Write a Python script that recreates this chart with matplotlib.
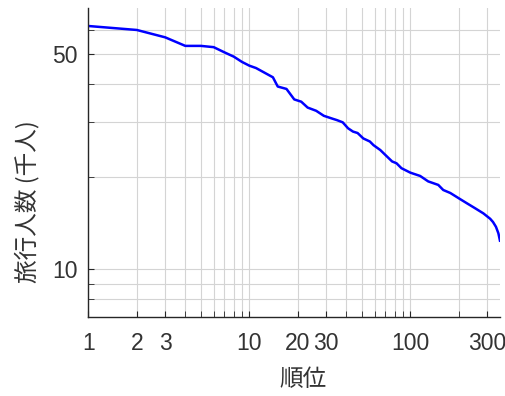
import matplotlib
matplotlib.use("Agg")
import matplotlib.pyplot as plt
from matplotlib.ticker import FixedLocator, NullFormatter, FixedFormatter

plt.rcParams['font.family'] = ['Liberation Sans', 'Noto Sans CJK JP', 'DejaVu Sans']

rank = [1, 2, 3, 4, 5, 6, 7, 8, 9, 10, 11, 14, 15, 17, 19, 21, 23, 26, 29, 33,
        35, 38, 41, 44, 47, 51, 56, 59, 65, 70, 77, 82, 88, 100, 115, 129, 149,
        160, 177, 204, 224, 252, 284, 313, 326, 340, 352, 360]
travelers = [61.6, 59.8, 56.6, 53.1, 53.1, 52.6, 50.6, 49.0, 47.1, 45.8, 45.0,
             42.0, 39.2, 38.5, 35.6, 35.0, 33.5, 32.7, 31.5, 30.8,
             30.5, 30.0, 28.7, 28.0, 27.7, 26.6, 26.0, 25.3, 24.4, 23.5, 22.4,
             22.1, 21.3, 20.6, 20.1, 19.3, 18.8, 18.1, 17.7, 16.9, 16.4, 15.8,
             15.2, 14.6, 14.25, 13.75, 13.1, 12.4]

x_major = [1, 2, 3, 10, 20, 30, 100, 300]
x_minor = [4, 5, 6, 7, 8, 9, 40, 50, 60, 70, 80, 90, 200]
y_major = [10, 50]
y_minor = [8, 9, 20, 30, 40, 60]

fig = plt.figure(figsize=(5.05, 3.96), dpi=100)
ax = fig.add_axes([0.175, 0.199, 0.815, 0.780])
ax.plot(rank, travelers, color='#0000ff', linewidth=1.8)
ax.set_xscale('log')
ax.set_yscale('log')
ax.set_xlim(1, 360)
ax.set_ylim(7, 70.3)

ax.xaxis.set_major_locator(FixedLocator(x_major))
ax.xaxis.set_major_formatter(FixedFormatter([str(v) for v in x_major]))
ax.xaxis.set_minor_locator(FixedLocator(x_minor))
ax.xaxis.set_minor_formatter(NullFormatter())
ax.yaxis.set_major_locator(FixedLocator(y_major))
ax.yaxis.set_major_formatter(FixedFormatter([str(v) for v in y_major]))
ax.yaxis.set_minor_locator(FixedLocator(y_minor))
ax.yaxis.set_minor_formatter(NullFormatter())

ax.grid(True, which='both', color='#d4d4d4', linewidth=0.8)
ax.set_axisbelow(True)
for s in ['top', 'right']:
    ax.spines[s].set_visible(False)
for s in ['left', 'bottom']:
    ax.spines[s].set_color('#262626')
    ax.spines[s].set_linewidth(1.0)
ax.tick_params(which='both', direction='in', color='#262626', labelcolor='#333333', labelsize=16.5)
ax.tick_params(which='both', length=4)
ax.tick_params(axis='x', pad=11)
ax.tick_params(axis='y', pad=8)

ax.set_xlabel('順位', fontsize=17, family=['Noto Sans CJK JP'], color='#333333')
ax.set_ylabel('旅行人数 (千人)', fontsize=17, family=['Noto Sans CJK JP'], color='#333333')
ax.xaxis.set_label_coords(0.5215, -0.164)
ax.yaxis.set_label_coords(-0.12, 0.374)

fig.savefig('out.png', dpi=100)
